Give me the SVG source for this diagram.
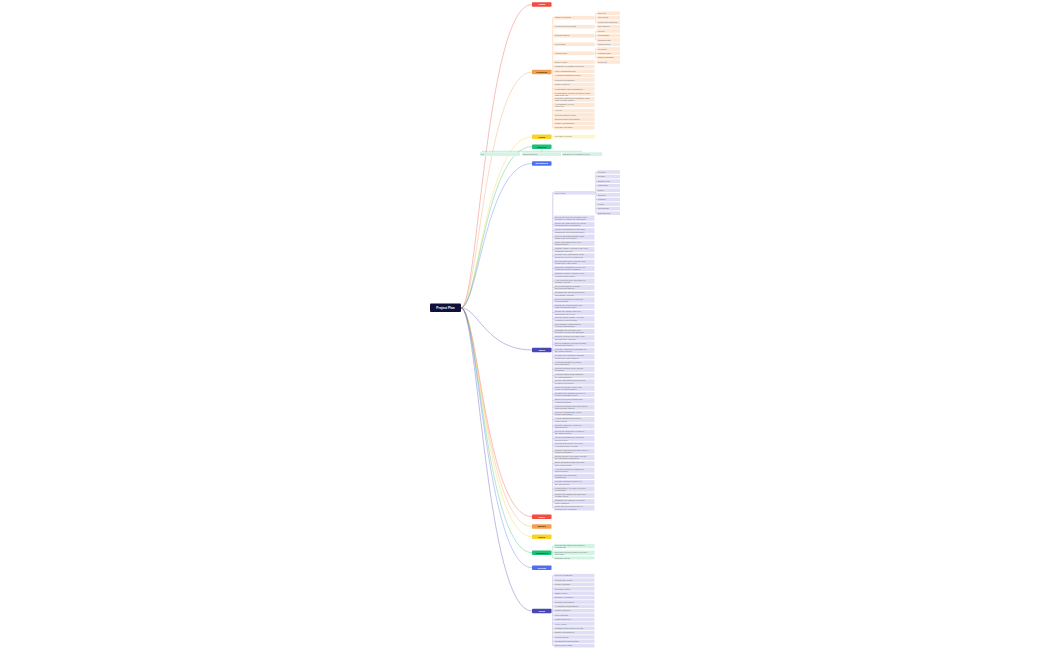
<svg xmlns="http://www.w3.org/2000/svg" width="1050" height="650" viewBox="0 0 1050 650">
<style>
text{font-family:"Liberation Sans",Arial,sans-serif}
.t{font-size:2.2px;fill:#707070}
.l1t{font-size:2.4px;font-weight:bold;text-anchor:middle}
.wt{fill:#ffffff}
.dt{fill:#3d3000}
.cr{fill:none;stroke-width:0.6;stroke-opacity:0.6}
.br{fill:none;stroke-width:0.45}
.co{fill:#fde7d6}.cy{fill:#fdf6cc}.cg{fill:#d3f3e4}.ci{fill:#e0def5}
</style>
<rect width="1050" height="650" fill="#ffffff"/>
<g id="connectors">
<path class="cr" stroke="#f24b3f" d="M461,307.8 C478,307.8 486,4.5 532,4.5"/>
<path class="cr" stroke="#f59d4f" d="M461,307.8 C478,307.8 486,72 532,72"/>
<path class="cr" stroke="#f6d22a" d="M461,307.8 C478,307.8 486,136.8 532,136.8"/>
<path class="cr" stroke="#1dbf77" d="M461,307.8 C478,307.8 486,146.7 532,146.7"/>
<path class="cr" stroke="#4f6ef3" d="M461,307.8 C478,307.8 486,163.5 532,163.5"/>
<path class="cr" stroke="#4a46b6" d="M461,307.8 C478,307.8 486,350 532,350"/>
<path class="cr" stroke="#f24b3f" d="M461,307.8 C478,307.8 486,516.7 532,516.7"/>
<path class="cr" stroke="#f59d4f" d="M461,307.8 C478,307.8 486,526.5 532,526.5"/>
<path class="cr" stroke="#f6d22a" d="M461,307.8 C478,307.8 486,536.7 532,536.7"/>
<path class="cr" stroke="#1dbf77" d="M461,307.8 C478,307.8 486,552.7 532,552.7"/>
<path class="cr" stroke="#4f6ef3" d="M461,307.8 C478,307.8 486,567.7 532,567.7"/>
<path class="cr" stroke="#4a46b6" d="M461,307.8 C478,307.8 486,611 532,611"/>
<!-- orange branch -->
<path class="br" stroke="#f7b98a" d="M551.5,72H552.8M552.8,17.7V127.7M552.8,17.7H554M552.8,26.7H554M552.8,35.7H554M552.8,44.3H554M552.8,53.3H554M552.8,62H554M552.8,66.7H554M552.8,71.3H554M552.8,75.7H554M552.8,80H554M552.8,84.7H554M552.8,89H554M552.8,93.8H554M552.8,99.3H554M552.8,105H554M552.8,110.7H554M552.8,114.9H554M552.8,119.1H554M552.8,123.4H554M552.8,127.7H554"/>
<path class="br" stroke="#f7b98a" d="M594.5,17.7H595.7M595.7,13.3V22.3M595.7,13.3H597M595.7,17.7H597M595.7,22.3H597M594.5,26.7H597M594.5,35.7H595.7M595.7,31V40M595.7,31H597M595.7,35.7H597M595.7,40H597M594.5,44.3H597M594.5,53.3H595.7M595.7,49V57.7M595.7,49H597M595.7,53.3H597M595.7,57.7H597M594.5,62H597"/>
<!-- yellow branch -->
<path class="br" stroke="#f3dc6a" d="M551.5,136.8H554"/>
<!-- green branch (downward) -->
<path class="br" stroke="#6fd6a6" d="M541.8,149V151.3M482,152.3Q482,151.3 483,151.3H581Q582,151.3 582,152.3M541.8,151.3V152.3"/>
<!-- indigo branch -->
<path class="br" stroke="#9b98d8" d="M551.5,350H552.8M552.8,192.8V507.9M552.8,192.8H554M552.8,218.1H554M552.8,224.4H554M552.8,230.7H554M552.8,237H554M552.8,243.3H554M552.8,249.6H554M552.8,255.9H554M552.8,262.2H554M552.8,268.5H554M552.8,274.8H554M552.8,281.1H554M552.8,287.4H554M552.8,293.7H554M552.8,300H554M552.8,306.3H554M552.8,312.6H554M552.8,318.9H554M552.8,325.2H554M552.8,331.5H554M552.8,337.8H554M552.8,344.1H554M552.8,350.4H554M552.8,356.7H554M552.8,363H554M552.8,369.3H554M552.8,375.6H554M552.8,381.9H554M552.8,388.2H554M552.8,394.5H554M552.8,400.8H554M552.8,407.1H554M552.8,413.4H554M552.8,419.7H554M552.8,426H554M552.8,432.3H554M552.8,438.6H554M552.8,444.9H554M552.8,451.2H554M552.8,457.5H554M552.8,463.8H554M552.8,470.1H554M552.8,476.4H554M552.8,482.7H554M552.8,489H554M552.8,495.3H554M552.8,501.6H554M552.8,507.9H554"/>
<path class="br" stroke="#9b98d8" d="M595,192.8H595.9M595.9,172V213.2M595.9,172H597M595.9,176.6H597M595.9,181.2H597M595.9,185.7H597M595.9,190.3H597M595.9,194.9H597M595.9,199.5H597M595.9,204.1H597M595.9,208.6H597M595.9,213.2H597"/>
<!-- green 2 -->
<path class="br" stroke="#6fd6a6" d="M551.5,552.7H552.8M552.8,546V557.9M552.8,546H554M552.8,552.7H554M552.8,557.9H554"/>
<!-- indigo 2 -->
<path class="br" stroke="#9b98d8" d="M551.5,611H552.8M552.8,575.7V645.7M552.8,575.7H554M552.8,580.1H554M552.8,584.5H554M552.8,588.8H554M552.8,593.2H554M552.8,597.6H554M552.8,602H554M552.8,606.3H554M552.8,610.7H554M552.8,615.1H554M552.8,619.5H554M552.8,623.8H554M552.8,628.2H554M552.8,632.6H554M552.8,637H554M552.8,641.3H554M552.8,645.7H554"/>
</g>

<g id="root"><rect x="430" y="303.5" width="31" height="8.5" rx="1" fill="#10103a"/><text x="445.5" y="308.9" font-size="3.2" font-weight="bold" fill="#fff" text-anchor="middle">Project Plan</text></g>

<g id="n-vision"><rect x="532" y="2.2" width="19.5" height="4.6" rx="0.8" fill="#f24b3f"/><text class="l1t wt" x="541.75" y="5.4">Vision</text></g>
<g id="n-roadmap"><rect x="532" y="69.7" width="19.5" height="4.6" rx="0.8" fill="#f59d4f"/><text class="l1t dt" x="541.75" y="72.9">Roadmap</text></g>
<g id="n-goals"><rect x="532" y="134.5" width="19.5" height="4.6" rx="0.8" fill="#f6d22a"/><text class="l1t dt" x="541.75" y="137.7">Goals</text></g>
<g id="n-timeline"><rect x="532" y="144.4" width="19.5" height="4.6" rx="0.8" fill="#1dbf77"/><text class="l1t" fill="#063a22" x="541.75" y="147.6">Timeline</text></g>
<g id="n-milestones"><rect x="532" y="161.2" width="19.5" height="4.6" rx="0.8" fill="#4f6ef3"/><text class="l1t wt" x="541.75" y="164.4">Milestones</text></g>
<g id="n-tasks"><rect x="532" y="347.7" width="19.5" height="4.6" rx="0.8" fill="#4a46b6"/><text class="l1t wt" x="541.75" y="350.9">Tasks</text></g>
<g id="n-risks"><rect x="532" y="514.4" width="19.5" height="4.6" rx="0.8" fill="#f24b3f"/><text class="l1t wt" x="541.75" y="517.6">Risks</text></g>
<g id="n-budget"><rect x="532" y="524.2" width="19.5" height="4.6" rx="0.8" fill="#f59d4f"/><text class="l1t dt" x="541.75" y="527.4">Budget</text></g>
<g id="n-notes"><rect x="532" y="534.4" width="19.5" height="4.6" rx="0.8" fill="#f6d22a"/><text class="l1t dt" x="541.75" y="537.6">Notes</text></g>
<g id="n-resources"><rect x="532" y="550.4" width="19.5" height="4.6" rx="0.8" fill="#1dbf77"/><text class="l1t" fill="#063a22" x="541.75" y="553.6">Resources</text></g>
<g id="n-review"><rect x="532" y="565.4" width="19.5" height="4.6" rx="0.8" fill="#4f6ef3"/><text class="l1t wt" x="541.75" y="568.6">Review</text></g>
<g id="n-ideas"><rect x="532" y="608.7" width="19.5" height="4.6" rx="0.8" fill="#4a46b6"/><text class="l1t wt" x="541.75" y="611.9">Ideas</text></g>

<!-- orange children -->
<g id="o1" transform="translate(554,15.9)"><rect class="co" width="40.5" height="3.6"/><text class="t" x="1" y="2.6">Market research</text></g>
<g id="o2" transform="translate(554,24.9)"><rect class="co" width="40.5" height="3.6"/><text class="t" x="1" y="2.6">Product requirements</text></g>
<g id="o3" transform="translate(554,33.9)"><rect class="co" width="40.5" height="3.6"/><text class="t" x="1" y="2.6">Design system</text></g>
<g id="o4" transform="translate(554,42.5)"><rect class="co" width="40.5" height="3.6"/><text class="t" x="1" y="2.6">Tech stack</text></g>
<g id="o5" transform="translate(554,51.5)"><rect class="co" width="40.5" height="3.6"/><text class="t" x="1" y="2.6">Launch plan</text></g>
<g id="o6" transform="translate(554,60.2)"><rect class="co" width="40.5" height="3.6"/><text class="t" x="1" y="2.6">Beta release</text></g>
<g id="o7" transform="translate(554,64.9)"><rect class="co" width="40.5" height="3.6"/><text class="t" x="1" y="2.6">Customer feedback collection</text></g>
<g id="o8" transform="translate(554,69.5)"><rect class="co" width="40.5" height="3.6"/><text class="t" x="1" y="2.6">User onboarding flow</text></g>
<g id="o9" transform="translate(554,73.9)"><rect class="co" width="40.5" height="3.6"/><text class="t" x="1" y="2.6">Analytics dashboard setup</text></g>
<g id="o10" transform="translate(554,78.2)"><rect class="co" width="40.5" height="3.6"/><text class="t" x="1" y="2.6">Payment integration</text></g>
<g id="o11" transform="translate(554,82.9)"><rect class="co" width="40.5" height="3.6"/><text class="t" x="1" y="2.6">Mobile support</text></g>
<g id="o12" transform="translate(554,87.2)"><rect class="co" width="40.5" height="3.6"/><text class="t" x="1" y="2.6">Localization and translations</text></g>
<g id="o13" transform="translate(554,91.5)"><rect class="co" width="40.5" height="4.6"/><text class="t" x="1" y="2">Performance improvements for large<tspan x="1" y="4.2">data sets (v2)</tspan></text></g>
<g id="o14" transform="translate(554,97)"><rect class="co" width="40.5" height="4.6"/><text class="t" x="1" y="2">Security audit and penetration tests<tspan x="1" y="4.2">with external partner</tspan></text></g>
<g id="o15" transform="translate(554,102.7)"><rect class="co" width="40.5" height="4.6"/><text class="t" x="1" y="2">Accessibility review<tspan x="1" y="4.2">and fixes</tspan></text></g>
<g id="o16" transform="translate(554,108.9)"><rect class="co" width="40.5" height="3.6"/><text class="t" x="1" y="2.6">API v3</text></g>
<g id="o17" transform="translate(554,113.1)"><rect class="co" width="40.5" height="3.6"/><text class="t" x="1" y="2.6">Documentation portal</text></g>
<g id="o18" transform="translate(554,117.3)"><rect class="co" width="40.5" height="3.6"/><text class="t" x="1" y="2.6">Support ticket automation</text></g>
<g id="o19" transform="translate(554,121.6)"><rect class="co" width="40.5" height="3.6"/><text class="t" x="1" y="2.6">Partner integrations</text></g>
<g id="o20" transform="translate(554,125.9)"><rect class="co" width="40.5" height="3.6"/><text class="t" x="1" y="2.6">Release checklist</text></g>
<!-- orange grandchildren -->
<g id="o1a" transform="translate(597,11.5)"><rect class="co" width="23" height="3.6"/><text class="t" x="1" y="2.6">Surveys</text></g>
<g id="o1b" transform="translate(597,15.9)"><rect class="co" width="23" height="3.6"/><text class="t" x="1" y="2.6">Interviews</text></g>
<g id="o1c" transform="translate(597,20.5)"><rect class="co" width="23" height="3.6"/><text class="t" x="1" y="2.6">Competitor analysis</text></g>
<g id="o2a" transform="translate(597,24.9)"><rect class="co" width="23" height="3.6"/><text class="t" x="1" y="2.6">User stories</text></g>
<g id="o3a" transform="translate(597,29.2)"><rect class="co" width="23" height="3.6"/><text class="t" x="1" y="2.6">Colors</text></g>
<g id="o3b" transform="translate(597,33.9)"><rect class="co" width="23" height="3.6"/><text class="t" x="1" y="2.6">Typography</text></g>
<g id="o3c" transform="translate(597,38.2)"><rect class="co" width="23" height="3.6"/><text class="t" x="1" y="2.6">Components</text></g>
<g id="o4a" transform="translate(597,42.5)"><rect class="co" width="23" height="3.6"/><text class="t" x="1" y="2.6">Frameworks</text></g>
<g id="o5a" transform="translate(597,47.2)"><rect class="co" width="23" height="3.6"/><text class="t" x="1" y="2.6">Press kit</text></g>
<g id="o5b" transform="translate(597,51.5)"><rect class="co" width="23" height="3.6"/><text class="t" x="1" y="2.6">Landing page</text></g>
<g id="o5c" transform="translate(597,55.9)"><rect class="co" width="23" height="3.6"/><text class="t" x="1" y="2.6">Email campaign</text></g>
<g id="o6a" transform="translate(597,60.2)"><rect class="co" width="23" height="3.6"/><text class="t" x="1" y="2.6">Invite list</text></g>

<!-- yellow child -->
<g id="y1" transform="translate(554,134.8)"><rect class="cy" width="41" height="3.6"/><text class="t" x="1" y="2.6">Increase revenue</text></g>

<!-- green children -->
<g id="g1" transform="translate(480,152.3)"><rect class="cg" width="40" height="3.7"/><text class="t" x="1" y="2.7">Q1</text></g>
<g id="g2" transform="translate(522,152.3)"><rect class="cg" width="39" height="3.7"/><text class="t" x="1" y="2.7">Q2 milestones</text></g>
<g id="g3" transform="translate(562,152.3)"><rect class="cg" width="40" height="3.7"/><text class="t" x="1" y="2.7">Q3 and Q4 roadmap review</text></g>

<!-- indigo first child + grandchildren -->
<g id="i0" transform="translate(554,191)"><rect class="ci" width="41" height="3.6"/><text class="t" x="1" y="2.6">Core team</text></g>
<g id="i0a" transform="translate(597,170.2)"><rect class="ci" width="23" height="3.6"/><text class="t" x="1" y="2.6">Product</text></g>
<g id="i0b" transform="translate(597,174.8)"><rect class="ci" width="23" height="3.6"/><text class="t" x="1" y="2.6">Design</text></g>
<g id="i0c" transform="translate(597,179.4)"><rect class="ci" width="23" height="3.6"/><text class="t" x="1" y="2.6">Engineering</text></g>
<g id="i0d" transform="translate(597,183.9)"><rect class="ci" width="23" height="3.6"/><text class="t" x="1" y="2.6">Marketing</text></g>
<g id="i0e" transform="translate(597,188.5)"><rect class="ci" width="23" height="3.6"/><text class="t" x="1" y="2.6">Sales</text></g>
<g id="i0f" transform="translate(597,193.1)"><rect class="ci" width="23" height="3.6"/><text class="t" x="1" y="2.6">Support</text></g>
<g id="i0g" transform="translate(597,197.7)"><rect class="ci" width="23" height="3.6"/><text class="t" x="1" y="2.6">Finance</text></g>
<g id="i0h" transform="translate(597,202.3)"><rect class="ci" width="23" height="3.6"/><text class="t" x="1" y="2.6">Legal</text></g>
<g id="i0i" transform="translate(597,206.8)"><rect class="ci" width="23" height="3.6"/><text class="t" x="1" y="2.6">Operations</text></g>
<g id="i0j" transform="translate(597,211.4)"><rect class="ci" width="23" height="3.6"/><text class="t" x="1" y="2.6">Data science</text></g>

<!-- indigo list -->
<g id="i1" transform="translate(554,215.5)"><rect class="ci" width="40.5" height="5.2"/><text class="t" x="1" y="2.2">Set up the project repository and<tspan x="1" y="4.5">configure continuous integration</tspan></text></g>
<g id="i2" transform="translate(554,221.8)"><rect class="ci" width="40.5" height="5.2"/><text class="t" x="1" y="2.2">Define the data model for users,<tspan x="1" y="4.5">accounts and permissions</tspan></text></g>
<g id="i3" transform="translate(554,228.1)"><rect class="ci" width="40.5" height="5.2"/><text class="t" x="1" y="2.2">Create wireframes for the main<tspan x="1" y="4.5">dashboard and settings pages</tspan></text></g>
<g id="i4" transform="translate(554,234.4)"><rect class="ci" width="40.5" height="5.2"/><text class="t" x="1" y="2.2">Implement authentication with<tspan x="1" y="4.5">single sign-on support</tspan></text></g>
<g id="i5" transform="translate(554,240.7)"><rect class="ci" width="40.5" height="5.2"/><text class="t" x="1" y="2.2">Write unit tests for the core<tspan x="1" y="4.5">billing module</tspan></text></g>
<g id="i6" transform="translate(554,247)"><rect class="ci" width="40.5" height="5.2"/><text class="t" x="1" y="2.2">Migrate legacy records to the new<tspan x="1" y="4.5">database schema</tspan></text></g>
<g id="i7" transform="translate(554,253.3)"><rect class="ci" width="40.5" height="5.2"/><text class="t" x="1" y="2.2">Prepare the onboarding email<tspan x="1" y="4.5">sequence for new customers</tspan></text></g>
<g id="i8" transform="translate(554,259.6)"><rect class="ci" width="40.5" height="5.2"/><text class="t" x="1" y="2.2">Review third-party licenses and<tspan x="1" y="4.5">update the legal notice</tspan></text></g>
<g id="i9" transform="translate(554,265.9)"><rect class="ci" width="40.5" height="5.2"/><text class="t" x="1" y="2.2">Build the notification service for<tspan x="1" y="4.5">email and push messages</tspan></text></g>
<g id="i10" transform="translate(554,272.2)"><rect class="ci" width="40.5" height="5.2"/><text class="t" x="1" y="2.2">Optimize image loading on the<tspan x="1" y="4.5">product listing pages</tspan></text></g>
<g id="i11" transform="translate(554,278.5)"><rect class="ci" width="40.5" height="5.2"/><text class="t" x="1" y="2.2">Add export to CSV and PDF for<tspan x="1" y="4.5">monthly reports</tspan></text></g>
<g id="i12" transform="translate(554,284.8)"><rect class="ci" width="40.5" height="5.2"/><text class="t" x="1" y="2.2">Fix layout issues on small<tspan x="1" y="4.5">screens and tablets</tspan></text></g>
<g id="i13" transform="translate(554,291.1)"><rect class="ci" width="40.5" height="5.2"/><text class="t" x="1" y="2.2">Integrate the payment provider<tspan x="1" y="4.5">and handle refunds</tspan></text></g>
<g id="i14" transform="translate(554,297.4)"><rect class="ci" width="40.5" height="5.2"/><text class="t" x="1" y="2.2">Set up monitoring, alerts and<tspan x="1" y="4.5">error tracking</tspan></text></g>
<g id="i15" transform="translate(554,303.7)"><rect class="ci" width="40.5" height="5.2"/><text class="t" x="1" y="2.2">Design the pricing page and<tspan x="1" y="4.5">plan comparison table</tspan></text></g>
<g id="i16" transform="translate(554,310)"><rect class="ci" width="40.5" height="5.2"/><text class="t" x="1" y="2.2">Create the admin panel for<tspan x="1" y="4.5">managing user roles</tspan></text></g>
<g id="i17" transform="translate(554,316.3)"><rect class="ci" width="40.5" height="5.2"/><text class="t" x="1" y="2.2">Document the public API with<tspan x="1" y="4.5">examples and tutorials</tspan></text></g>
<g id="i18" transform="translate(554,322.6)"><rect class="ci" width="40.5" height="5.2"/><text class="t" x="1" y="2.2">Run usability tests with five<tspan x="1" y="4.5">external participants</tspan></text></g>
<g id="i19" transform="translate(554,328.9)"><rect class="ci" width="40.5" height="5.2"/><text class="t" x="1" y="2.2">Translate the interface into<tspan x="1" y="4.5">German, French and Spanish</tspan></text></g>
<g id="i20" transform="translate(554,335.2)"><rect class="ci" width="40.5" height="5.2"/><text class="t" x="1" y="2.2">Improve search relevance and<tspan x="1" y="4.5">add filters by category</tspan></text></g>
<g id="i21" transform="translate(554,341.5)"><rect class="ci" width="40.5" height="5.2"/><text class="t" x="1" y="2.2">Set up staging environment that<tspan x="1" y="4.5">mirrors production</tspan></text></g>
<g id="i22" transform="translate(554,347.8)"><rect class="ci" width="40.5" height="5.2"/><text class="t" x="1" y="2.2">Plan the marketing campaign for<tspan x="1" y="4.5">the public launch</tspan></text></g>
<g id="i23" transform="translate(554,354.1)"><rect class="ci" width="40.5" height="5.2"/><text class="t" x="1" y="2.2">Prepare the customer support<tspan x="1" y="4.5">knowledge base articles</tspan></text></g>
<g id="i24" transform="translate(554,360.4)"><rect class="ci" width="40.5" height="5.2"/><text class="t" x="1" y="2.2">Audit accessibility of forms<tspan x="1" y="4.5">and navigation</tspan></text></g>
<g id="i25" transform="translate(554,366.7)"><rect class="ci" width="40.5" height="5.2"/><text class="t" x="1" y="2.2">Implement dark mode across<tspan x="1" y="4.5">all pages</tspan></text></g>
<g id="i26" transform="translate(554,373)"><rect class="ci" width="40.5" height="5.2"/><text class="t" x="1" y="2.2">Add two-factor authentication<tspan x="1" y="4.5">for administrators</tspan></text></g>
<g id="i27" transform="translate(554,379.3)"><rect class="ci" width="40.5" height="5.2"/><text class="t" x="1" y="2.2">Create automated backups and<tspan x="1" y="4.5">a restore procedure</tspan></text></g>
<g id="i28" transform="translate(554,385.6)"><rect class="ci" width="40.5" height="5.2"/><text class="t" x="1" y="2.2">Write the privacy policy and<tspan x="1" y="4.5">cookie consent banner</tspan></text></g>
<g id="i29" transform="translate(554,391.9)"><rect class="ci" width="40.5" height="5.2"/><text class="t" x="1" y="2.2">Refactor the settings module to<tspan x="1" y="4.5">reduce duplicated code</tspan></text></g>
<g id="i30" transform="translate(554,398.2)"><rect class="ci" width="40.5" height="5.2"/><text class="t" x="1" y="2.2">Build a referral program with<tspan x="1" y="4.5">rewards tracking</tspan></text></g>
<g id="i31" transform="translate(554,404.5)"><rect class="ci" width="40.5" height="5.2"/><text class="t" x="1" y="2.2">Collect feedback from beta users<tspan x="1" y="4.5">and prioritise issues</tspan></text></g>
<g id="i32" transform="translate(554,410.8)"><rect class="ci" width="40.5" height="5.2"/><text class="t" x="1" y="2.2">Improve loading time of the<tspan x="1" y="4.5">mobile application</tspan></text></g>
<g id="i33" transform="translate(554,417.1)"><rect class="ci" width="40.5" height="5.2"/><text class="t" x="1" y="2.2">Add keyboard shortcuts for<tspan x="1" y="4.5">power users</tspan></text></g>
<g id="i34" transform="translate(554,423.4)"><rect class="ci" width="40.5" height="5.2"/><text class="t" x="1" y="2.2">Prepare quarterly report for<tspan x="1" y="4.5">stakeholders</tspan></text></g>
<g id="i35" transform="translate(554,429.7)"><rect class="ci" width="40.5" height="5.2"/><text class="t" x="1" y="2.2">Set up the analytics events for<tspan x="1" y="4.5">the signup funnel</tspan></text></g>
<g id="i36" transform="translate(554,436)"><rect class="ci" width="40.5" height="5.2"/><text class="t" x="1" y="2.2">Create templates for common<tspan x="1" y="4.5">project types</tspan></text></g>
<g id="i37" transform="translate(554,442.3)"><rect class="ci" width="40.5" height="5.2"/><text class="t" x="1" y="2.2">Review and merge open pull<tspan x="1" y="4.5">requests before release</tspan></text></g>
<g id="i38" transform="translate(554,448.6)"><rect class="ci" width="40.5" height="5.2"/><text class="t" x="1" y="2.2">Update dependencies and remove<tspan x="1" y="4.5">unused packages</tspan></text></g>
<g id="i39" transform="translate(554,454.9)"><rect class="ci" width="40.5" height="5.2"/><text class="t" x="1" y="2.2">Define service level agreements<tspan x="1" y="4.5">for enterprise customers</tspan></text></g>
<g id="i40" transform="translate(554,461.2)"><rect class="ci" width="40.5" height="5.2"/><text class="t" x="1" y="2.2">Build integration with calendar<tspan x="1" y="4.5">and email clients</tspan></text></g>
<g id="i41" transform="translate(554,467.5)"><rect class="ci" width="40.5" height="5.2"/><text class="t" x="1" y="2.2">Add bulk editing for tasks and<tspan x="1" y="4.5">project items</tspan></text></g>
<g id="i42" transform="translate(554,473.8)"><rect class="ci" width="40.5" height="5.2"/><text class="t" x="1" y="2.2">Design new icons and<tspan x="1" y="4.5">illustrations</tspan></text></g>
<g id="i43" transform="translate(554,480.1)"><rect class="ci" width="40.5" height="5.2"/><text class="t" x="1" y="2.2">Prepare training session for<tspan x="1" y="4.5">the sales team</tspan></text></g>
<g id="i44" transform="translate(554,486.4)"><rect class="ci" width="40.5" height="5.2"/><text class="t" x="1" y="2.2">Load test the API with expected<tspan x="1" y="4.5">peak traffic</tspan></text></g>
<g id="i45" transform="translate(554,492.7)"><rect class="ci" width="40.5" height="5.2"/><text class="t" x="1" y="2.2">Create the changelog page and<tspan x="1" y="4.5">release notes</tspan></text></g>
<g id="i46" transform="translate(554,499)"><rect class="ci" width="40.5" height="5.2"/><text class="t" x="1" y="2.2">Organise the launch event and<tspan x="1" y="4.5">invite partners</tspan></text></g>
<g id="i47" transform="translate(554,505.3)"><rect class="ci" width="40.5" height="5.2"/><text class="t" x="1" y="2.2">Close the project and write a<tspan x="1" y="4.5">retrospective summary</tspan></text></g>

<!-- green 2 children -->
<g id="r1" transform="translate(554,543.9)"><rect class="cg" width="40.5" height="4.3"/><text class="t" x="1" y="1.9">Internal wiki pages and shared<tspan x="1" y="4">documents</tspan></text></g>
<g id="r2" transform="translate(554,550.6)"><rect class="cg" width="40.5" height="4.3"/><text class="t" x="1" y="1.9">External resources and reference<tspan x="1" y="4">materials</tspan></text></g>
<g id="r3" transform="translate(554,556.4)"><rect class="cg" width="40.5" height="3"/><text class="t" x="1" y="2.3">Training videos</text></g>

<!-- indigo 2 children -->
<g id="d1" transform="translate(554,573.9)"><rect class="ci" width="40.5" height="3.6"/><text class="t" x="1" y="2.6">Weekly newsletter</text></g>
<g id="d2" transform="translate(554,578.3)"><rect class="ci" width="40.5" height="3.6"/><text class="t" x="1" y="2.6">Community forum</text></g>
<g id="d3" transform="translate(554,582.7)"><rect class="ci" width="40.5" height="3.6"/><text class="t" x="1" y="2.6">Public roadmap</text></g>
<g id="d4" transform="translate(554,587)"><rect class="ci" width="40.5" height="3.6"/><text class="t" x="1" y="2.6">Template gallery</text></g>
<g id="d5" transform="translate(554,591.4)"><rect class="ci" width="40.5" height="3.6"/><text class="t" x="1" y="2.6">Offline mode</text></g>
<g id="d6" transform="translate(554,595.8)"><rect class="ci" width="40.5" height="3.6"/><text class="t" x="1" y="2.6">Browser extension</text></g>
<g id="d7" transform="translate(554,600.2)"><rect class="ci" width="40.5" height="3.6"/><text class="t" x="1" y="2.6">Desktop application</text></g>
<g id="d8" transform="translate(554,604.5)"><rect class="ci" width="40.5" height="3.6"/><text class="t" x="1" y="2.6">AI-assisted suggestions</text></g>
<g id="d9" transform="translate(554,608.9)"><rect class="ci" width="40.5" height="3.6"/><text class="t" x="1" y="2.6">Custom themes</text></g>
<g id="d10" transform="translate(554,613.3)"><rect class="ci" width="40.5" height="3.6"/><text class="t" x="1" y="2.6">Time tracking</text></g>
<g id="d11" transform="translate(554,617.7)"><rect class="ci" width="40.5" height="3.6"/><text class="t" x="1" y="2.6">Gantt chart view</text></g>
<g id="d12" transform="translate(554,622)"><rect class="ci" width="40.5" height="3.6"/><text class="t" x="1" y="2.6">Voice notes</text></g>
<g id="d13" transform="translate(554,626.4)"><rect class="ci" width="40.5" height="3.6"/><text class="t" x="1" y="2.6">Kanban board improvements</text></g>
<g id="d14" transform="translate(554,630.8)"><rect class="ci" width="40.5" height="3.6"/><text class="t" x="1" y="2.6">Shared workspaces</text></g>
<g id="d15" transform="translate(554,635.2)"><rect class="ci" width="40.5" height="3.6"/><text class="t" x="1" y="2.6">Guest access</text></g>
<g id="d16" transform="translate(554,639.5)"><rect class="ci" width="40.5" height="3.6"/><text class="t" x="1" y="2.6">Integrations marketplace</text></g>
<g id="d17" transform="translate(554,643.9)"><rect class="ci" width="40.5" height="3.6"/><text class="t" x="1" y="2.6">Open source SDK</text></g>
</svg>
